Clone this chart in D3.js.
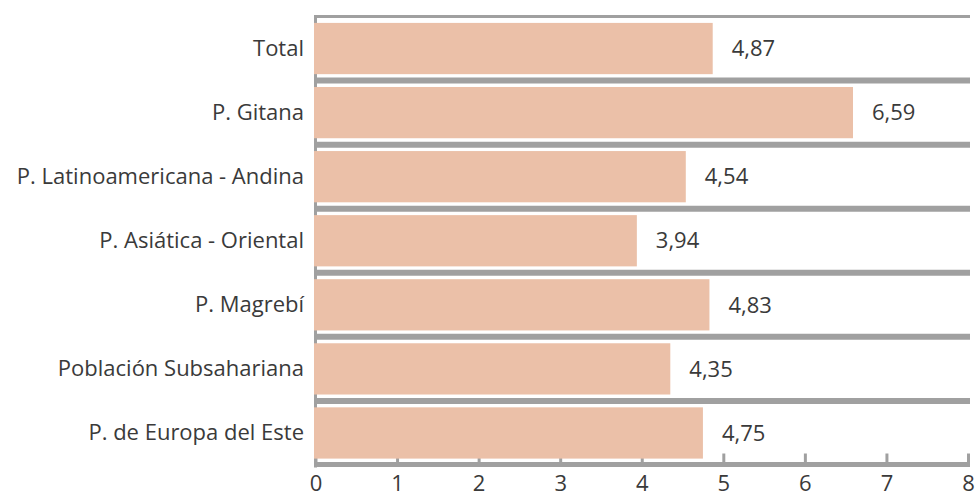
<!DOCTYPE html>
<html>
<head>
<meta charset="utf-8">
<script src="https://cdn.jsdelivr.net/npm/d3@7"></script>
<style>
  html, body { margin: 0; padding: 0; background: #ffffff; }
  svg { display: block; }
  text { font-family: "Open Sans", "Noto Sans", sans-serif; fill: #3a3a3a; }
</style>
</head>
<body>
<svg id="chart" width="976" height="496"></svg>
<script>
const categories = [
  "Total",
  "P. Gitana",
  "P. Latinoamericana - Andina",
  "P. Asiática - Oriental",
  "P. Magrebí",
  "Población Subsahariana",
  "P. de Europa del Este"
];
const values = [4.87, 6.59, 4.54, 3.94, 4.83, 4.35, 4.75];
const valueLabels = ["4,87", "6,59", "4,54", "3,94", "4,83", "4,35", "4,75"];
const xTicks = [0, 1, 2, 3, 4, 5, 6, 7, 8];

(function () {
const plotLeft = 315.5, plotRight = 968, plotTop = 16.5, plotBottom = 465;
const barColor = "#ebc0a8";
const gray = "#a0a0a0";
const fontSize = 22;
const fontFam = '"Open Sans", "Noto Sans", sans-serif';

const svg = d3.select("#chart");

const x = d3.scaleLinear().domain([0, 8]).range([plotLeft, plotRight]);
const y = d3.scaleBand().domain(categories).range([plotTop, plotBottom])
  .paddingInner(0.2).paddingOuter(0.1);

const gap = y.step() * y.paddingInner() / 2;

// horizontal separators between categories
const seps = categories.slice(1).map(c => y(c) - gap);
svg.append("g").selectAll("line").data(seps).join("line")
  .attr("x1", plotLeft - 1.5).attr("x2", x(8) + 2)
  .attr("y1", d => d).attr("y2", d => d)
  .attr("stroke", gray).attr("stroke-width", 6);

// top line
svg.append("line")
  .attr("x1", plotLeft - 1.5).attr("x2", x(8) + 2)
  .attr("y1", plotTop).attr("y2", plotTop)
  .attr("stroke", gray).attr("stroke-width", 3);

// left axis line
svg.append("line")
  .attr("x1", plotLeft).attr("x2", plotLeft)
  .attr("y1", plotTop - 1.5).attr("y2", plotBottom + 2.5)
  .attr("stroke", gray).attr("stroke-width", 3);

// bottom axis
const xAxis = d3.axisBottom(x).tickValues(xTicks).tickFormat(d3.format("d"))
  .tickSizeInner(-11).tickSizeOuter(0).tickPadding(11);
const gx = svg.append("g").attr("transform", `translate(0,${plotBottom - 0.5})`).call(xAxis);
gx.select(".domain").remove();
gx.append("line")
  .attr("x1", plotLeft - 1.5).attr("x2", x(8) + 2)
  .attr("y1", 0).attr("y2", 0)
  .attr("stroke", gray).attr("stroke-width", 5);
gx.selectAll(".tick line").attr("stroke", gray).attr("stroke-width", 3);
gx.selectAll(".tick text")
  .style("font-family", fontFam)
  .style("font-size", fontSize + "px").attr("fill", "#3a3a3a");

// bars
svg.append("g").selectAll("rect").data(categories).join("rect")
  .attr("x", plotLeft - 1.5)
  .attr("y", d => y(d))
  .attr("width", (d, i) => x(values[i]) - plotLeft + 1.5)
  .attr("height", y.bandwidth())
  .attr("fill", barColor);

// category labels
const yAxis = d3.axisLeft(y).tickSize(0).tickPadding(11.5);
const gy = svg.append("g").attr("transform", `translate(${plotLeft},0)`).call(yAxis);
gy.select(".domain").remove();
gy.selectAll(".tick text")
  .style("font-family", fontFam)
  .style("font-size", fontSize + "px").attr("fill", "#3a3a3a");

// value labels
svg.append("g").selectAll("text").data(categories).join("text")
  .attr("x", (d, i) => x(values[i]) + 19)
  .attr("y", d => y(d) + y.bandwidth() / 2)
  .attr("dy", "0.35em")
  .style("font-family", fontFam)
  .style("font-size", fontSize + "px")
  .text((d, i) => valueLabels[i]);
})();
</script>
</body>
</html>
